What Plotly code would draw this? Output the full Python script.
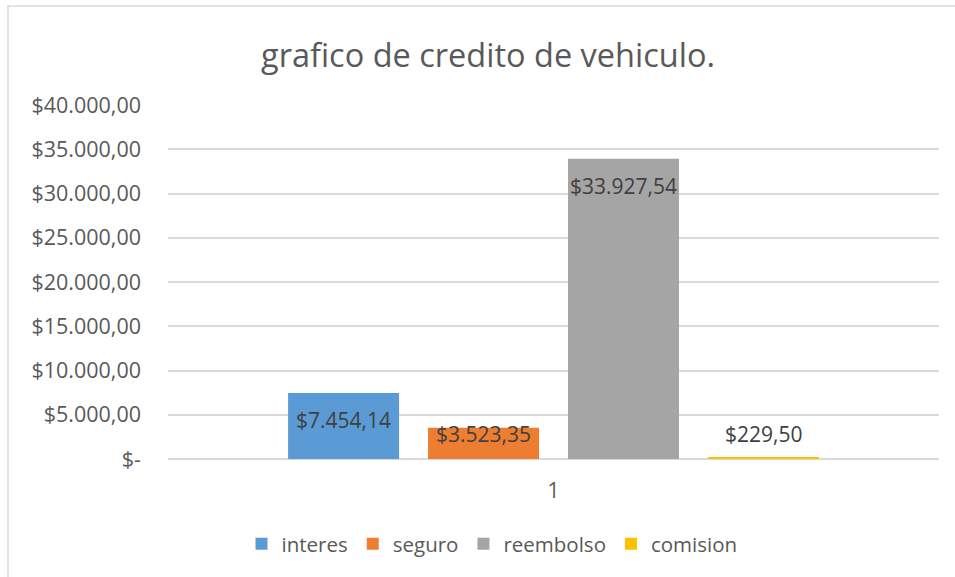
import plotly.graph_objects as go

categories = ["1"]
series_names = ["interes", "seguro", "reembolso", "comision"]
series_values = [7454.14, 3523.35, 33927.54, 229.50]
series_colors = ["#5b9bd5", "#ed7d31", "#a5a5a5", "#ffc000"]
tick_values = [0, 5000, 10000, 15000, 20000, 25000, 30000, 35000, 40000]


def money(v):
    if v == 0:
        return "$-"
    s = f"{v:,.2f}"
    s = s.replace(",", "X").replace(".", ",").replace("X", ".")
    return "$" + s


tick_text = [money(v) for v in tick_values]

W, H = 955, 577
ML, MR, MT, MB = 168, 16, 105, 118
plot_w = W - ML - MR
plot_h = H - MT - MB
y_max = 40000
bargap = 0.274
bargroupgap = 0.207
FS = 21

fig = go.Figure()
for name, val, col in zip(series_names, series_values, series_colors):
    fig.add_trace(go.Bar(
        x=categories, y=[val], name=name,
        marker=dict(color=col, line=dict(width=0)),
        hoverinfo="skip",
    ))

# data labels (Excel "inside end" style)
n = len(series_names)
slot = (1 - bargap) / n
px_per_unit = plot_h / y_max
annotations = []
for i, val in enumerate(series_values):
    xc = -0.5 + bargap / 2 + slot * (i + 0.5)
    bar_px = val * px_per_unit
    if bar_px - 27 >= 25:
        y, ys = val, -27
    else:
        y, ys = 0, 25
    annotations.append(dict(
        x=xc, y=y, xref="x", yref="y", text=money(val), showarrow=False,
        yshift=ys, xanchor="center", yanchor="middle",
        font=dict(family="Open Sans", size=FS, color="#404040"),
    ))

fig.update_layout(
    width=W, height=H,
    margin=dict(l=ML, r=MR, t=MT, b=MB),
    paper_bgcolor="white", plot_bgcolor="white",
    barmode="group", bargap=bargap, bargroupgap=bargroupgap,
    title=dict(
        text="grafico de credito de vehiculo.",
        x=488 / W, xref="container", xanchor="center",
        y=1 - 56 / H, yref="container", yanchor="middle",
        font=dict(family="Open Sans", size=32.5, color="#595959"),
    ),
    font=dict(family="Open Sans", size=FS, color="#595959"),
    xaxis=dict(
        type="category", showgrid=False, showline=False, zeroline=False,
        ticks="", ticklabelstandoff=17,
        tickfont=dict(size=FS, color="#595959"),
        range=[-0.5, 0.5],
    ),
    yaxis=dict(
        range=[0, y_max], tickvals=tick_values, ticktext=tick_text,
        showgrid=True, gridcolor="#d9d9d9", gridwidth=1.5,
        zeroline=True, zerolinecolor="#d9d9d9", zerolinewidth=1.5,
        showline=False, ticks="", ticklabelstandoff=26,
        tickfont=dict(size=21.5, color="#595959"),
    ),
    legend=dict(
        orientation="h", x=(492 - ML) / plot_w, xanchor="center",
        y=-(544 - (H - MB)) / plot_h, yanchor="middle",
        font=dict(size=20.5, color="#595959"),
        bgcolor="rgba(0,0,0,0)", traceorder="normal",
    ),
    annotations=annotations,
    shapes=[dict(
        type="rect", xref="paper", yref="paper",
        x0=(8 - ML) / plot_w, x1=(965 - ML) / plot_w,
        y0=-(585 - (H - MB)) / plot_h, y1=((H - MB) - 6) / plot_h,
        line=dict(color="#d9d9d9", width=1.5), fillcolor="rgba(0,0,0,0)",
        layer="below",
    )],
    showlegend=True,
)

fig.write_html("out.html")
